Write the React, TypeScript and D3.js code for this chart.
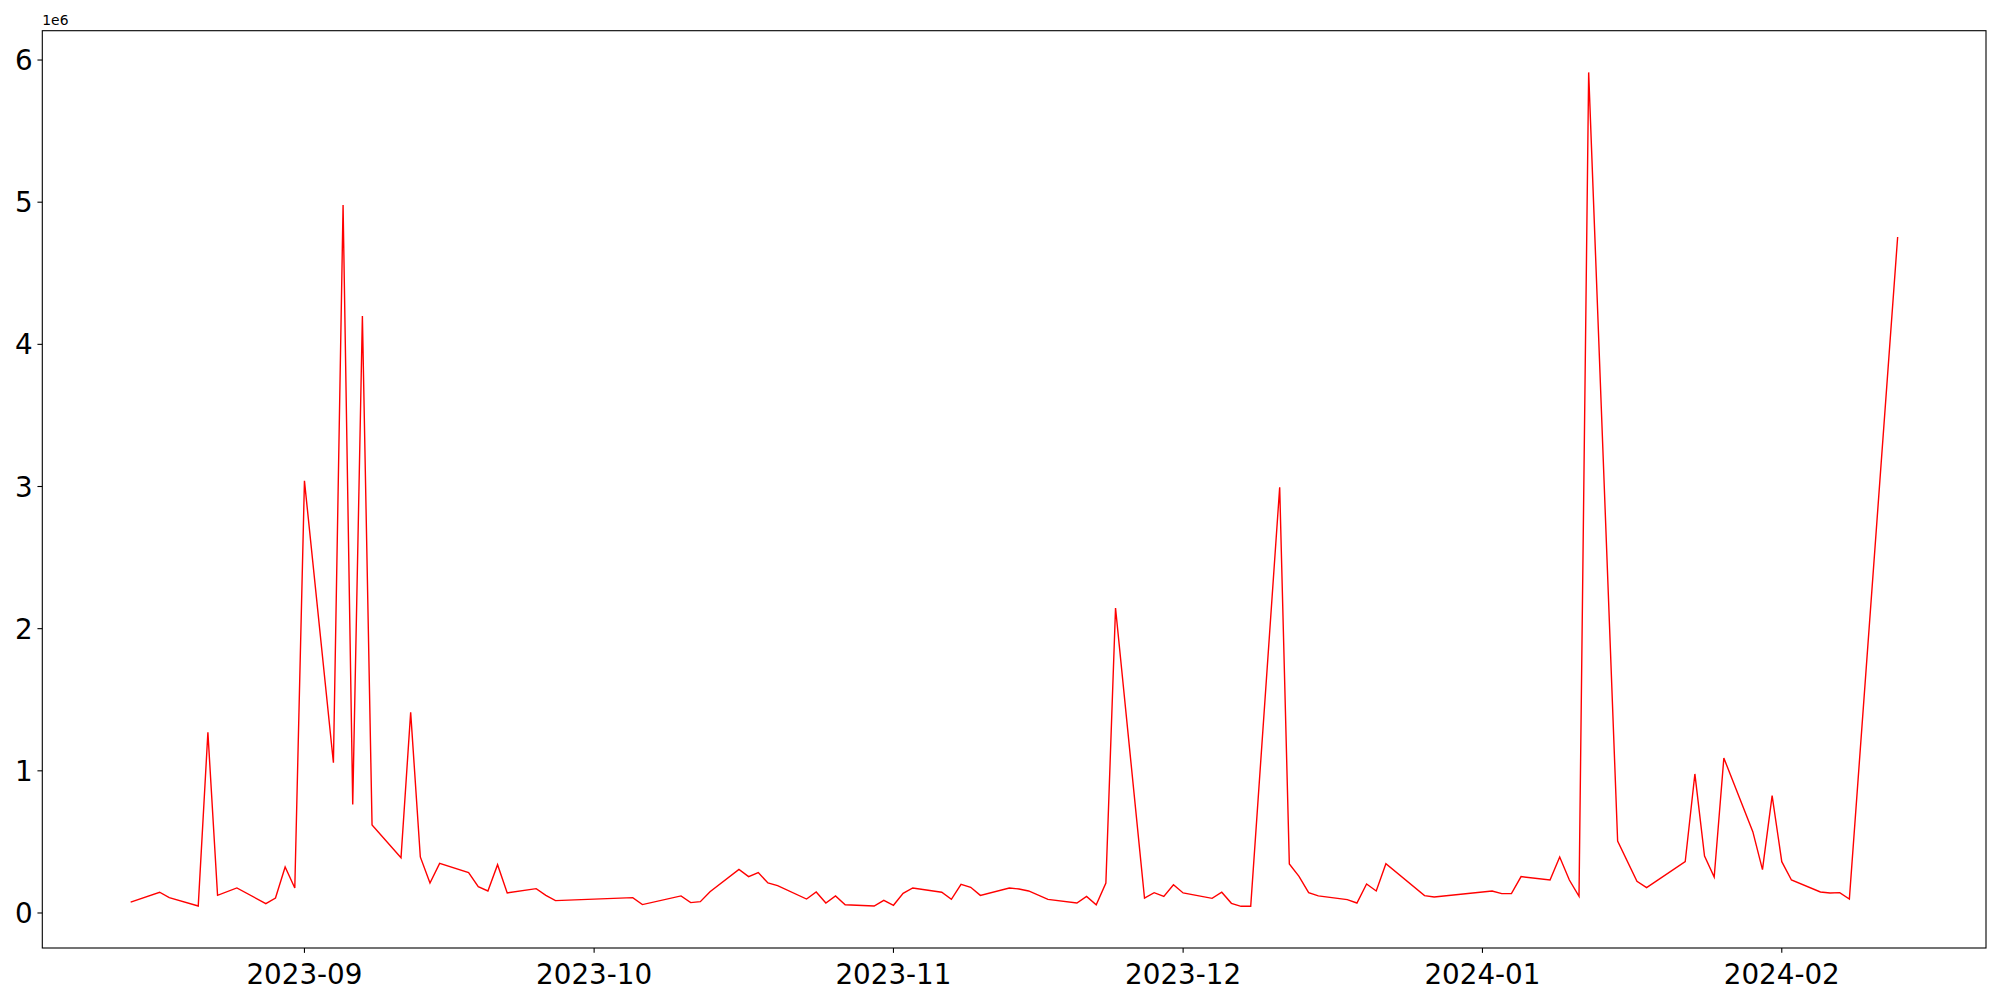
import React from "react";
import * as d3 from "d3";

const dates: string[] = [
  "2023-08-14","2023-08-17","2023-08-18","2023-08-21","2023-08-22","2023-08-23","2023-08-25",
  "2023-08-28","2023-08-29","2023-08-30","2023-08-31","2023-09-01",
  "2023-09-04","2023-09-05","2023-09-06","2023-09-07","2023-09-08",
  "2023-09-11","2023-09-12","2023-09-13","2023-09-14","2023-09-15",
  "2023-09-18","2023-09-19","2023-09-20","2023-09-21","2023-09-22",
  "2023-09-25","2023-09-26","2023-09-27",
  "2023-10-05","2023-10-06",
  "2023-10-10","2023-10-11","2023-10-12","2023-10-13",
  "2023-10-16","2023-10-17","2023-10-18","2023-10-19","2023-10-20",
  "2023-10-23","2023-10-24","2023-10-25","2023-10-26","2023-10-27",
  "2023-10-30","2023-10-31","2023-11-01","2023-11-02","2023-11-03",
  "2023-11-06","2023-11-07","2023-11-08","2023-11-09","2023-11-10",
  "2023-11-13","2023-11-14","2023-11-15","2023-11-17",
  "2023-11-20","2023-11-21","2023-11-22","2023-11-23","2023-11-24",
  "2023-11-27","2023-11-28","2023-11-29","2023-11-30","2023-12-01",
  "2023-12-04","2023-12-05","2023-12-06","2023-12-07","2023-12-08",
  "2023-12-11","2023-12-12","2023-12-13","2023-12-14","2023-12-15",
  "2023-12-18","2023-12-19","2023-12-20","2023-12-21","2023-12-22",
  "2023-12-26","2023-12-27",
  "2024-01-02","2024-01-03","2024-01-04","2024-01-05",
  "2024-01-08","2024-01-09","2024-01-10","2024-01-11","2024-01-12",
  "2024-01-15","2024-01-17","2024-01-18",
  "2024-01-22","2024-01-23","2024-01-24","2024-01-25","2024-01-26",
  "2024-01-29","2024-01-30","2024-01-31","2024-02-01","2024-02-02",
  "2024-02-05","2024-02-06","2024-02-07","2024-02-08",
  "2024-02-13",
];

// values in millions (axis shows 1e6 offset)
const values: number[] = [
  0.077,0.146,0.108,0.049,1.271,0.124,0.176,
  0.066,0.105,0.324,0.176,3.04,
  1.057,4.98,0.764,4.2,0.619,
  0.389,1.412,0.394,0.211,0.349,
  0.284,0.185,0.155,0.340,0.141,
  0.171,0.124,0.087,
  0.108,0.059,
  0.120,0.073,0.080,0.150,
  0.307,0.256,0.284,0.211,0.192,
  0.098,0.148,0.070,0.120,0.058,
  0.049,0.089,0.054,0.138,0.176,
  0.146,0.096,0.202,0.181,0.124,
  0.176,0.169,0.155,0.096,
  0.070,0.117,0.058,0.211,2.145,
  0.105,0.143,0.117,0.199,0.141,
  0.103,0.146,0.068,0.047,0.047,
  2.995,0.345,0.258,0.143,0.120,
  0.094,0.070,0.204,0.155,0.347,
  0.122,0.113,
  0.155,0.136,0.136,0.256,
  0.232,0.394,0.232,0.117,5.913,
  0.506,0.223,0.178,
  0.361,0.978,0.401,0.253,1.09,
  0.572,0.305,0.825,0.361,0.232,
  0.148,0.141,0.143,0.098,
  4.755,
];

const yTicks: number[] = [0, 1, 2, 3, 4, 5, 6];
const xTickLabels: string[] = ["2023-09", "2023-10", "2023-11", "2023-12", "2024-01", "2024-02"];
const offsetLabel = "1e6";

const W = 2000;
const H = 1000;
const left = 42.3;
const right = 1986;
const top = 30.7;
const bottom = 948;
const FONT = "DejaVu Sans, sans-serif";

export default function App() {
  const parse = d3.utcParse("%Y-%m-%d");
  const data = dates.map((d, i) => ({ date: parse(d) as Date, v: values[i] * 1e6 }));

  const [x0, x1] = d3.extent(data, (d) => d.date.getTime()) as [number, number];
  const xPad = (x1 - x0) * 0.05;
  const x = d3.scaleUtc().domain([new Date(x0 - xPad), new Date(x1 + xPad)]).range([left, right]);

  const [y0, y1] = d3.extent(data, (d) => d.v) as [number, number];
  const yPad = (y1 - y0) * 0.05;
  const y = d3.scaleLinear().domain([y0 - yPad, y1 + yPad]).range([bottom, top]);

  const line = d3
    .line<{ date: Date; v: number }>()
    .x((d) => x(d.date))
    .y((d) => y(d.v));

  const monthParse = d3.utcParse("%Y-%m");
  const xTicks = xTickLabels.map((l) => ({ label: l, date: monthParse(l) as Date }));
  const tickLen = 4.86;
  const fs = 27.78;

  return (
    <svg width={W} height={H} style={{ position: "absolute", left: 0, top: 0, background: "#fff" }}>
      <rect x={0} y={0} width={W} height={H} fill="#fff" />
      <path d={line(data) || ""} fill="none" stroke="#ff0000" strokeWidth={1.4} strokeLinejoin="miter" />
      <rect x={left} y={top} width={right - left} height={bottom - top} fill="none" stroke="#000" strokeWidth={1.1} />
      {yTicks.map((t) => (
        <g key={"y" + t}>
          <line x1={left - tickLen} x2={left} y1={y(t * 1e6)} y2={y(t * 1e6)} stroke="#000" strokeWidth={1.1} />
          <text
            x={left - tickLen - 4.86}
            y={y(t * 1e6)}
            dy="0.36em"
            textAnchor="end"
            fontFamily={FONT}
            fontSize={fs}
            fill="#000"
          >
            {t}
          </text>
        </g>
      ))}
      {xTicks.map((t) => (
        <g key={t.label}>
          <line x1={x(t.date)} x2={x(t.date)} y1={bottom} y2={bottom + tickLen} stroke="#000" strokeWidth={1.1} />
          <text x={x(t.date)} y={984} textAnchor="middle" fontFamily={FONT} fontSize={fs} fill="#000">
            {t.label}
          </text>
        </g>
      ))}
      <text x={left} y={25} fontFamily={FONT} fontSize={13.89} fill="#000">
        {offsetLabel}
      </text>
    </svg>
  );
}
